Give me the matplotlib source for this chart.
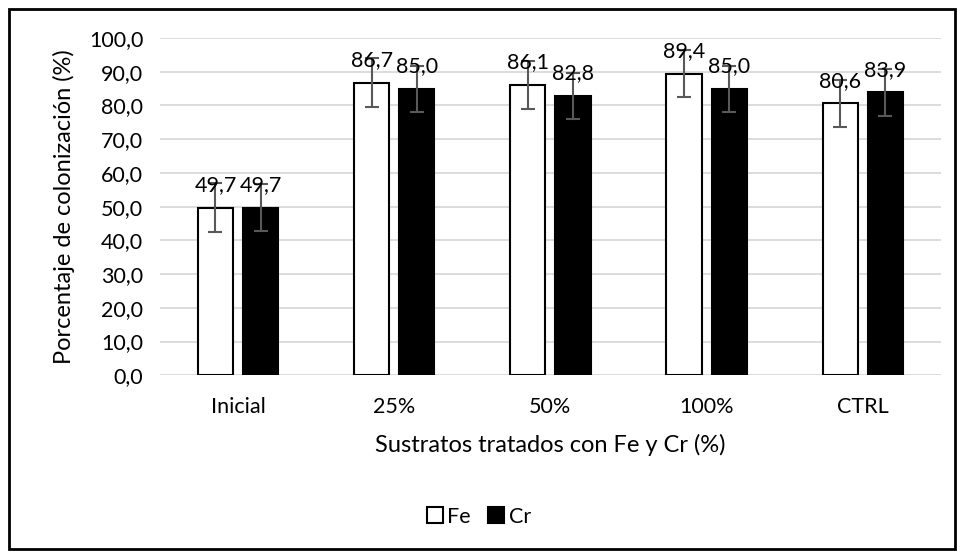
import numpy as np
import matplotlib.pyplot as plt
from matplotlib.patches import Rectangle

plt.rcParams['font.family'] = ['Lato', 'DejaVu Sans']

categories = ['Inicial', '25%', '50%', '100%', 'CTRL']
fe_vals = [49.7, 86.7, 86.1, 89.4, 80.6]
cr_vals = [49.7, 85.0, 82.8, 85.0, 83.9]
fe_err = [7.2, 7.3, 7.2, 7.0, 7.0]
cr_err = [7.0, 6.8, 6.9, 6.8, 6.9]
yticks = np.arange(0, 101, 10)

fig = plt.figure(figsize=(9.58, 5.51), dpi=100)
ax = fig.add_axes([0.167, 0.319, 0.815, 0.612])

x = np.arange(len(categories))
w = 0.225
gap = 0.064
ekw = dict(ecolor='#595959', elinewidth=1.5, capsize=5, capthick=1.5)
b1 = ax.bar(x - (w + gap) / 2, fe_vals, w, color='white', edgecolor='black',
            linewidth=1.5, yerr=fe_err, error_kw=ekw, label='Fe', zorder=2)
b2 = ax.bar(x + (w + gap) / 2, cr_vals, w, color='black', edgecolor='black',
            linewidth=1.5, yerr=cr_err, error_kw=ekw, label='Cr', zorder=2)

for bars, vals in ((b1, fe_vals), (b2, cr_vals)):
    for b, v in zip(bars, vals):
        ax.annotate(('%.1f' % v).replace('.', ','),
                    (b.get_x() + b.get_width() / 2, v),
                    xytext=(0, 9), textcoords='offset points',
                    ha='center', va='bottom', fontsize=15.5, zorder=3)

ax.set_ylim(0, 100)
ax.set_xlim(-0.5, len(categories) - 0.5)
ax.set_yticks(yticks)
ax.set_yticklabels([('%.1f' % t).replace('.', ',') for t in yticks], fontsize=15.5)
ax.set_xticks(x)
ax.set_xticklabels(categories, fontsize=15.5)
ax.tick_params(axis='y', length=0, pad=12)
ax.tick_params(axis='x', length=0, pad=16)
ax.grid(axis='y', color='#d9d9d9', linewidth=1.3, zorder=0)
for s in ax.spines.values():
    s.set_visible(False)
ax.set_ylabel('Porcentaje de colonización (%)', fontsize=17, labelpad=10)
ax.set_xlabel('Sustratos tratados con Fe y Cr (%)', fontsize=17, labelpad=12)

ax.legend(loc='center', bbox_to_anchor=(0.5, 0.062), bbox_transform=fig.transFigure,
          ncol=2, frameon=False, fontsize=15.5, handlelength=0.75, handleheight=0.75,
          handletextpad=0.2, columnspacing=0.8)

fig.patches.append(Rectangle((0.009, 0.004), 0.988, 0.98, transform=fig.transFigure,
                             fill=False, edgecolor='black', linewidth=2))

fig.savefig('out.png', dpi=100)
